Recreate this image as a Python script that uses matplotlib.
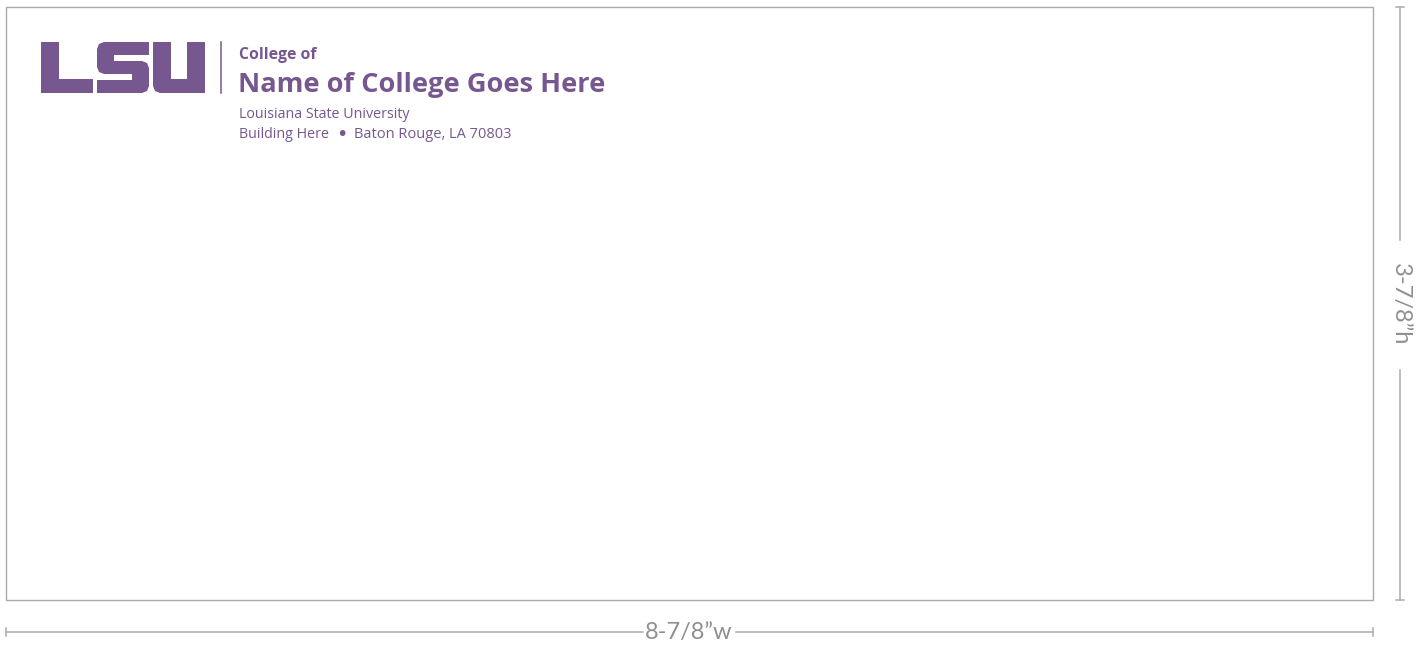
import matplotlib
matplotlib.use("Agg")
import matplotlib.pyplot as plt
from matplotlib.patches import Rectangle, Polygon

# Text content
logo_letters = ["L", "S", "U"]
college_prefix = "College of"
college_name = "Name of College Goes Here"
address_line1 = "Louisiana State University"
address_line2_parts = ["Building Here", "\u2022", "Baton Rouge, LA 70803"]
width_label = "8-7/8\u201dw"
height_label = "3-7/8\u201dh"

PURPLE = "#77578f"
GRAY = "#ababab"
DIMGRAY = "#8f8f8f"

W, H = 1416, 650
fig = plt.figure(figsize=(W / 100, H / 100), dpi=100)
ax = fig.add_axes([0, 0, 1, 1])
ax.set_xlim(0, W)
ax.set_ylim(H, 0)
ax.axis("off")

# Envelope outline
ax.add_patch(Rectangle((6, 6.5), 1367, 593.5, fill=False, edgecolor=GRAY, lw=1.0))

# Horizontal dimension line
ax.plot([6, 643], [632, 632], color=GRAY, lw=1.1)
ax.plot([736, 1373], [632, 632], color=GRAY, lw=1.1)
ax.plot([6, 6], [628, 636], color=GRAY, lw=1.1)
ax.plot([1373, 1373], [628, 636], color=GRAY, lw=1.1)
ax.text(689, 633, width_label, ha="center", va="center", fontsize=17,
        color=DIMGRAY, family="Lato")

# Vertical dimension line
ax.plot([1400, 1400], [7, 240], color=GRAY, lw=1.1)
ax.plot([1400, 1400], [370, 600], color=GRAY, lw=1.1)
ax.plot([1396, 1404], [7, 7], color=GRAY, lw=1.1)
ax.plot([1396, 1404], [600, 600], color=GRAY, lw=1.1)
ax.text(1400, 304, height_label, ha="center", va="center", fontsize=17,
        rotation=-90, color=DIMGRAY, family="Lato")

# LSU logo blocks
top, bot = 42, 93
def rect(x0, y0, x1, y1):
    ax.add_patch(Rectangle((x0, y0), x1 - x0, y1 - y0, facecolor=PURPLE, edgecolor="none"))

def poly(pts):
    ax.add_patch(Polygon(pts, closed=True, facecolor=PURPLE, edgecolor="none"))

# L
rect(41, top, 59, bot)
rect(41, 79, 93, bot)

# S
poly([(97, 49), (99, 44), (104, 42), (149, 42), (149, 55), (114, 55),
      (114, 61), (142, 61), (147, 63), (149, 68), (149, 86), (147, 91),
      (142, 93), (97, 93), (97, 80), (132, 80), (132, 74), (104, 74),
      (99, 72), (97, 67)])

# U
poly([(153, top), (171, top), (171, 79), (187, 79), (187, top), (205, top),
      (205, bot), (160, bot), (155, 91), (153, 86)])

# Divider
ax.plot([221, 221], [42, 93], color=PURPLE, lw=1.1)

# Texts
ax.text(239, 55, college_prefix, ha="left", va="center", fontsize=11.3,
        color=PURPLE, family="Open Sans", fontweight="bold")
ax.text(238, 92, college_name, ha="left", va="baseline", fontsize=19.6,
        color=PURPLE, family="Open Sans", fontweight="bold")
ax.text(239, 115, address_line1, ha="left", va="center", fontsize=10.3,
        color=PURPLE, family="Open Sans")
ax.text(239, 134, address_line2_parts[0], ha="left", va="center", fontsize=10.3,
        color=PURPLE, family="Open Sans")
ax.text(341.5, 134, address_line2_parts[1], ha="center", va="center", fontsize=14,
        color=PURPLE, family="DejaVu Sans")
ax.text(354, 134, address_line2_parts[2], ha="left", va="center", fontsize=10.5,
        color=PURPLE, family="Open Sans")

fig.savefig("out.png", dpi=100, facecolor="white")
